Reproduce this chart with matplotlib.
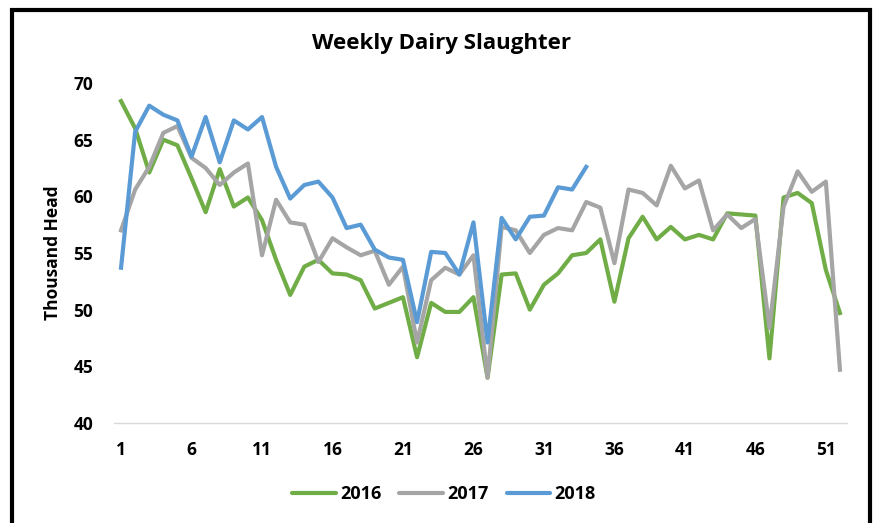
import matplotlib.pyplot as plt
from matplotlib.patches import Rectangle

# datos semanales (miles de cabezas)
semanas = list(range(1, 53))

y2016 = [68.4, 66.0, 62.1, 65.0, 64.5, 61.6, 58.6, 62.4, 59.1, 59.9,
         57.9, 54.4, 51.3, 53.8, 54.4, 53.2, 53.1, 52.6, 50.1, 50.6,
         51.1, 45.8, 50.6, 49.8, 49.8, 51.1, 44.0, 53.1, 53.2, 50.0,
         52.2, 53.2, 54.8, 55.0, 56.2, 50.7, 56.3, 58.2, 56.2, 57.3,
         56.2, 56.6, 56.2, 58.5, 58.4, 58.3, 45.7, 59.9, 60.3, 59.4,
         53.5, 49.7]

y2017 = [57.0, 60.6, 62.6, 65.6, 66.2, 63.4, 62.5, 61.0, 62.1, 62.9,
         54.8, 59.7, 57.7, 57.5, 54.2, 56.3, 55.5, 54.8, 55.2, 52.2,
         53.8, 47.1, 52.6, 53.7, 53.1, 54.8, 44.0, 57.3, 57.0, 55.0,
         56.6, 57.2, 57.0, 59.5, 59.0, 54.1, 60.6, 60.3, 59.2, 62.7,
         60.7, 61.4, 57.0, 58.4, 57.2, 58.0, 48.4, 59.1, 62.2, 60.4,
         61.3, 44.7]

y2018 = [53.7, 65.7, 68.0, 67.2, 66.7, 63.5, 67.0, 63.0, 66.7, 65.9,
         67.0, 62.6, 59.8, 61.0, 61.3, 59.9, 57.2, 57.5, 55.3, 54.6,
         54.4, 48.9, 55.1, 55.0, 53.1, 57.7, 47.1, 58.1, 56.2, 58.2,
         58.3, 60.8, 60.6, 62.6]

fuente = 'Open Sans'

fig = plt.figure(figsize=(8.77, 5.23), dpi=100)
ax = fig.add_axes([114/877, 1 - 423/523, (847-114)/877, (423-83)/523])

ax.plot(semanas, y2016, color='#70AD47', lw=3, label='2016', solid_joinstyle='round')
ax.plot(semanas, y2017, color='#A5A5A5', lw=3, label='2017', solid_joinstyle='round')
ax.plot(semanas[:len(y2018)], y2018, color='#5B9BD5', lw=3, label='2018', solid_joinstyle='round')

ax.set_xlim(0.5, 52.5)
ax.set_ylim(40, 70)
ax.set_yticks(range(40, 71, 5))
ax.set_xticks(range(1, 53, 5))

for s in ['top', 'right', 'left']:
    ax.spines[s].set_visible(False)
ax.spines['bottom'].set_color('#D9D9D9')
ax.spines['bottom'].set_linewidth(1)
ax.tick_params(axis='both', length=0, labelsize=12.5)
ax.tick_params(axis='y', pad=15)
ax.tick_params(axis='x', pad=13)
for lbl in ax.get_xticklabels() + ax.get_yticklabels():
    lbl.set_fontweight('bold')
    lbl.set_fontfamily(fuente)

ax.set_ylabel('Thousand Head', fontsize=12.5, fontweight='bold', fontfamily=fuente, labelpad=8)
fig.text(442/877, 1 - 44/523, 'Weekly Dairy Slaughter', ha='center', va='center',
         fontsize=16, fontweight='bold', fontfamily=fuente)

leg = fig.legend(loc='center', bbox_to_anchor=(444/877, 1 - 494/523), ncol=3,
                 frameon=False, handlelength=2.4, handletextpad=0.25, columnspacing=1.0,
                 prop={'family': fuente, 'weight': 'bold', 'size': 13})
for h in leg.get_lines():
    h.set_solid_capstyle('round')

# marco negro alrededor
fig.patches.append(Rectangle((12/877, -0.05), (870-12)/877, 1 - 10/523 + 0.05,
                             transform=fig.transFigure, fill=False,
                             edgecolor='black', linewidth=3))

fig.savefig('out.png', dpi=100)
